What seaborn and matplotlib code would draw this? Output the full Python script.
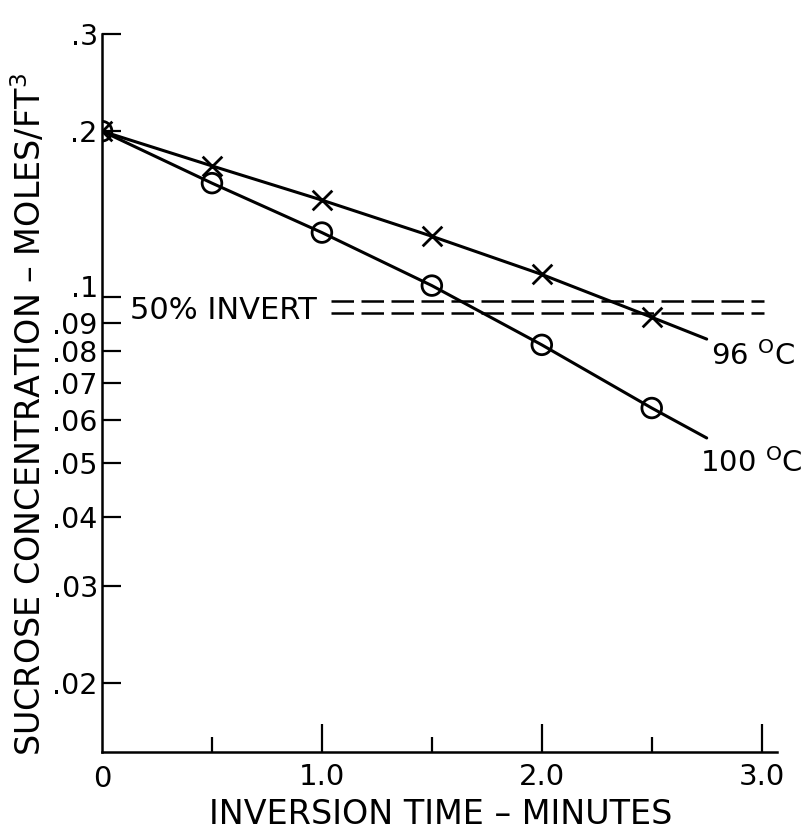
import matplotlib
matplotlib.use("Agg")
import matplotlib.pyplot as plt
import matplotlib.ticker as mtick
import matplotlib.transforms as mtrans
import seaborn as sns
import pandas as pd

# inversion time (minutes) and sucrose concentration (moles/ft^3)
time_100 = [0.0, 0.5, 1.0, 1.5, 2.0, 2.5, 2.75]
conc_100 = [0.200, 0.161, 0.131, 0.105, 0.082, 0.063, 0.0556]
marked_100 = [True, True, True, True, True, True, False]

time_96 = [0.0, 0.5, 1.0, 1.5, 2.0, 2.5, 2.75]
conc_96 = [0.200, 0.173, 0.150, 0.129, 0.110, 0.092, 0.084]
marked_96 = [True, True, True, True, True, True, False]

invert_levels = [0.0985, 0.0935]
invert_start, invert_end = 1.04, 3.01

y_ticks = [0.3, 0.2, 0.1, 0.09, 0.08, 0.07, 0.06, 0.05, 0.04, 0.03, 0.02]
y_labels = [".3", ".2", ".1", ".09", ".08", ".07", ".06", ".05", ".04", ".03", ".02"]
x_ticks = [1.0, 2.0, 3.0]
x_labels = ["1.0", "2.0", "3.0"]
x_minor = [0.5, 1.5, 2.5]

sns.set_style("ticks")
plt.rcParams['font.family'] = ['DejaVu Sans']
plt.rcParams['mathtext.fontset'] = 'dejavusans'
for k in ["text.color", "axes.labelcolor", "xtick.color", "ytick.color", "axes.edgecolor"]:
    plt.rcParams[k] = "black"

df100 = pd.DataFrame({"t": time_100, "c": conc_100, "m": marked_100})
df96 = pd.DataFrame({"t": time_96, "c": conc_96, "m": marked_96})

fig = plt.figure(figsize=(8.06, 8.31), dpi=100)
ax = fig.add_axes([0.1266, 0.0951, 0.8375, 0.864])
ax.set_yscale("log")

# lines
sns.lineplot(data=df100, x="t", y="c", color="black", lw=2.2, ax=ax, sort=False)
sns.lineplot(data=df96, x="t", y="c", color="black", lw=2.2, ax=ax, sort=False)
# markers
sns.scatterplot(data=df100[df100.m], x="t", y="c", marker="o", s=200,
                facecolor="none", edgecolor="black", linewidth=2, ax=ax, zorder=5)
sns.scatterplot(data=df96[df96.m], x="t", y="c", marker="x", s=200,
                color="black", linewidth=2, ax=ax, zorder=5)

# 50% invert band
ax.hlines(invert_levels, invert_start, invert_end, colors="black",
          linestyles=(0, (9, 3)), lw=1.8)

ax.text(0.127, 0.0945, "50% INVERT", fontsize=22, va="center", ha="left")
ax.text(2.77, 0.0781, r"96 $^{\rm O}$C", fontsize=21, va="center", ha="left")
ax.text(2.72, 0.0500, r"100 $^{\rm O}$C", fontsize=21, va="center", ha="left")

ax.set_xlim(0, 3.07)
ax.set_ylim(0.015, 0.3)

ax.yaxis.set_major_locator(mtick.FixedLocator(y_ticks))
ax.yaxis.set_major_formatter(mtick.FixedFormatter(y_labels))
ax.yaxis.set_minor_locator(mtick.NullLocator())
ax.xaxis.set_major_locator(mtick.FixedLocator(x_ticks))
ax.xaxis.set_major_formatter(mtick.FixedFormatter(x_labels))
ax.xaxis.set_minor_locator(mtick.FixedLocator(x_minor))

ax.tick_params(axis="y", direction="in", length=14, width=1.6, labelsize=20.5, pad=3)
ax.tick_params(axis="x", which="major", direction="in", length=20, width=1.6,
               labelsize=21, pad=8)
ax.tick_params(axis="x", which="minor", direction="in", length=11, width=1.6)
ax.text(0, -0.018, "0", transform=ax.get_xaxis_transform(), fontsize=21,
        ha="center", va="top")

# the ".1" label sits a little above its tick in the original
lab = ax.get_yticklabels()[2]
lab.set_transform(lab.get_transform() + mtrans.ScaledTranslation(0, 8 / 72, fig.dpi_scale_trans))

for s in ["top", "right"]:
    ax.spines[s].set_visible(False)
for s in ["left", "bottom"]:
    ax.spines[s].set_linewidth(1.8)

ax.set_xlabel("INVERSION TIME \u2013 MINUTES", fontsize=24)
ax.set_ylabel("SUCROSE CONCENTRATION \u2013 MOLES/FT$^3$", fontsize=24)
ax.xaxis.set_label_coords(0.502, -0.064)
ax.yaxis.set_label_coords(-0.08, 0.47)

fig.savefig("out.png", dpi=100)
